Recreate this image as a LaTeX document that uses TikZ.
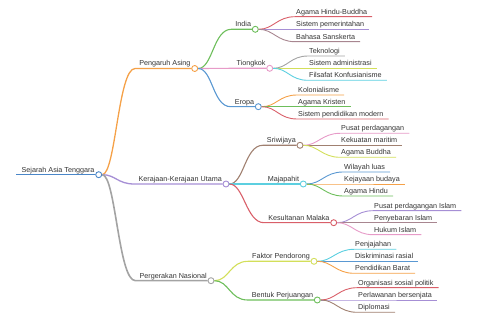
\documentclass[tikz,border=0pt]{standalone}
\usepackage{fontspec}
\setmainfont{Liberation Sans}
\definecolor{txt}{HTML}{333333}
\definecolor{cRoot}{HTML}{4A86C8}
\definecolor{cOrange}{HTML}{F5A148}
\definecolor{cPurple}{HTML}{A68FD5}
\definecolor{cGray}{HTML}{A3A3A3}
\definecolor{cGreen}{HTML}{6DBE5B}
\definecolor{cPink}{HTML}{E79BC8}
\definecolor{cRed}{HTML}{D95F69}
\definecolor{cMauve}{HTML}{A88690}
\definecolor{cLime}{HTML}{D3DF5A}
\definecolor{cCyan}{HTML}{5CCFE0}
\definecolor{cBlue}{HTML}{5A98D2}
\definecolor{cBrown}{HTML}{A08070}
\tikzset{
	lbl/.style={inner xsep=4pt, inner ysep=1pt, text height=1.5ex, text depth=.25ex, text=txt, font=\fontsize{7.2}{8.6}\selectfont},
	leaf/.style={lbl, inner xsep=1pt, anchor=south west},
	dot/.style={circle, draw=#1, fill=white, line width=0.9pt, inner sep=0pt, minimum size=6pt},
}
\begin{document}
\begin{tikzpicture}[x=1pt, y=-1pt]
		\useasboundingbox (0, 0) rectangle (480, 320);
		% root
		\node[dot=cRoot] (root) at (98.7, 174.7) {};
		\node[lbl, anchor=south east] (roott) at (root.center) {Sejarah Asia Tenggara};
		\draw[cRoot, line width=1.6pt] ([xshift=-1pt]roott.south west) -- (root);
		% main branches
		\node[dot=cOrange] (asing) at (194.7, 68.5) {};
		\node[lbl, anchor=south east] (asingt) at (asing.center) {Pengaruh Asing};
		\draw[cOrange, line width=1.3pt] (root) .. controls +(17, 0) and +(-17, 0) .. (asingt.south west) -- (asing);
		\node[dot=cPurple] (kerajaan) at (226, 184) {};
		\node[lbl, anchor=south east] (kerajaant) at (kerajaan.center) {Kerajaan-Kerajaan Utama};
		\draw[cPurple, line width=1.3pt] (root) .. controls +(17, 0) and +(-17, 0) .. (kerajaant.south west) -- (kerajaan);
		\node[dot=cGray] (gerak) at (211, 280.7) {};
		\node[lbl, anchor=south east] (gerakt) at (gerak.center) {Pergerakan Nasional};
		\draw[cGray, line width=1.6pt] (root) .. controls +(17, 0) and +(-17, 0) .. (gerakt.south west) -- (gerak);
		% sub branches
		\foreach \n/\p/\x/\y/\c/\t in {india/asing/255.3/29.3/cGreen/India, tiongkok/asing/269.7/68.3/cPink/Tiongkok, eropa/asing/258.3/106.7/cBlue/Eropa, sriwijaya/kerajaan/300/145.3/cBrown/Sriwijaya, majapahit/kerajaan/303.3/184/cCyan/Majapahit, malaka/kerajaan/333.7/222.7/cRed/Kesultanan Malaka, faktor/gerak/314/261.3/cLime/Faktor Pendorong, bentuk/gerak/317.3/300/cGreen/Bentuk Perjuangan}{
			\node[dot=\c] (\n) at (\x, \y) {};
			\node[lbl, anchor=south east] (\n t) at (\n.center) {\t};
			\draw[\c, line width=1.1pt] (\p) .. controls +(18, 0) and +(-18, 0) .. (\n t.south west) -- (\n);
		}
		% leaves
		\foreach \n/\p/\x/\y/\c/\t in {
			hindu/india/295/16.7/cRed/Agama Hindu-Buddha,
			pemerintahan/india/295/29.3/cPurple/Sistem pemerintahan,
			sanskerta/india/295/41.7/cMauve/Bahasa Sanskerta,
			teknologi/tiongkok/308/56/cGray/Teknologi,
			administrasi/tiongkok/308/68.3/cLime/Sistem administrasi,
			konfusius/tiongkok/308/80.3/cCyan/Filsafat Konfusianisme,
			kolonial/eropa/297/95/cOrange/Kolonialisme,
			kristen/eropa/297/106.7/cGreen/Agama Kristen,
			modern/eropa/297/119/cRed/Sistem pendidikan modern,
			dagang/sriwijaya/340/133.3/cPink/Pusat perdagangan,
			maritim/sriwijaya/340/145.3/cBrown/Kekuatan maritim,
			buddha/sriwijaya/340/157.3/cLime/Agama Buddha,
			wilayah/majapahit/343/172/cBlue/Wilayah luas,
			budaya/majapahit/343/184/cOrange/Kejayaan budaya,
			hinduagama/majapahit/343/196/cGreen/Agama Hindu,
			dagangislam/malaka/373/210.7/cPurple/Pusat perdagangan Islam,
			sebar/malaka/373/222.7/cMauve/Penyebaran Islam,
			hukum/malaka/373/234.7/cPink/Hukum Islam,
			jajah/faktor/354/249.3/cCyan/Penjajahan,
			diskriminasi/faktor/354/261.3/cBlue/Diskriminasi rasial,
			barat/faktor/354/273.3/cOrange/Pendidikan Barat,
			organisasi/bentuk/357/287.7/cRed/Organisasi sosial politik,
			perlawanan/bentuk/357/300/cPurple/Perlawanan bersenjata,
			diplomasi/bentuk/357/312.3/cBrown/Diplomasi}{
			\node[leaf] (\n) at (\x, \y) {\t};
			\draw[\c, line width=0.9pt] (\p) .. controls +(18, 0) and +(-18, 0) .. (\n.south west) -- ([xshift=4pt]\n.south east);
		}
	\end{tikzpicture}
\end{document}
